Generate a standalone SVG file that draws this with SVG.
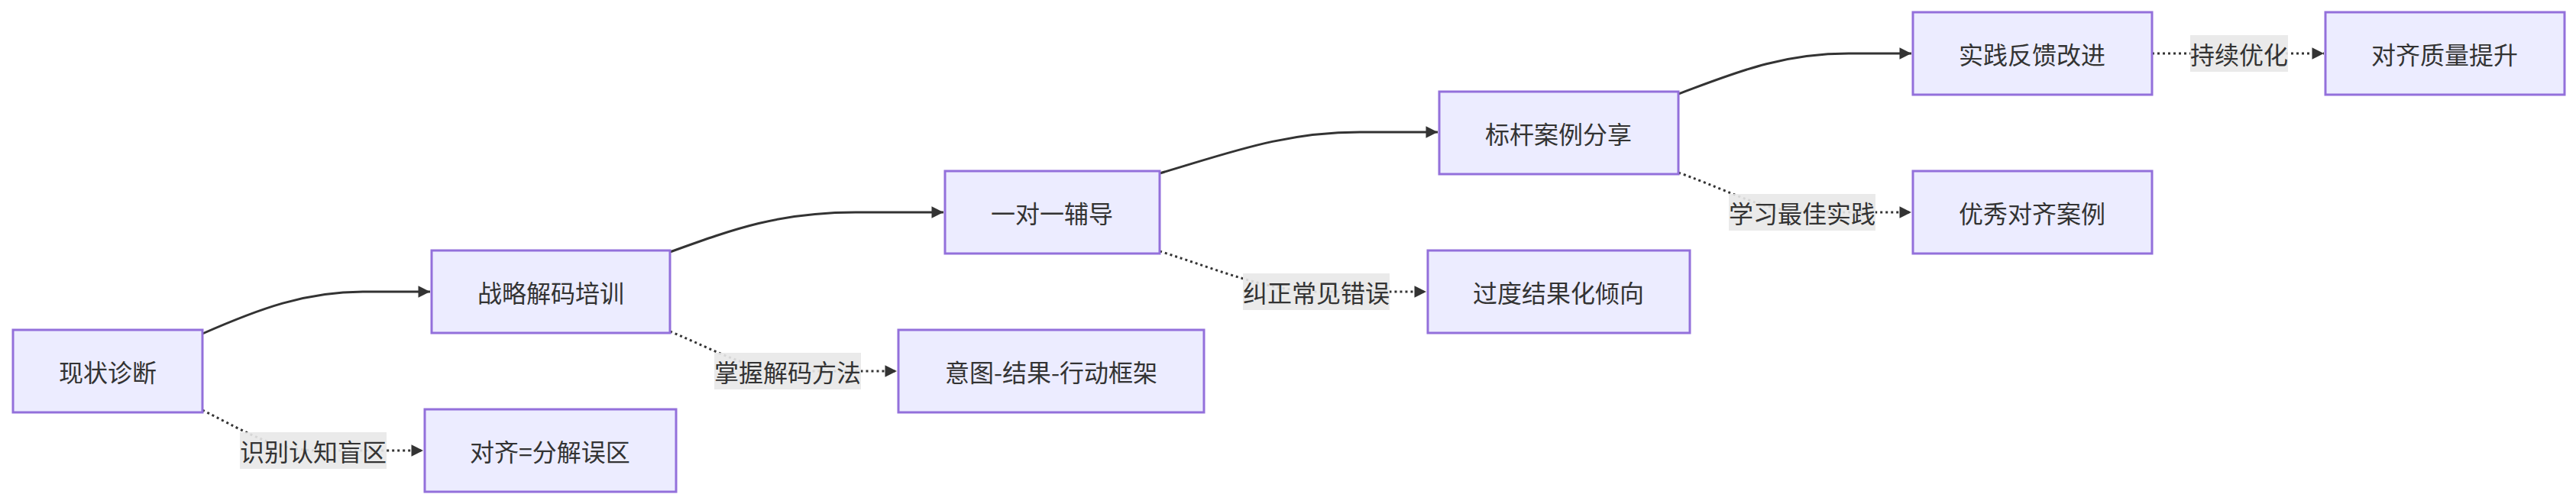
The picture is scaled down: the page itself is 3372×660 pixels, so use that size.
<svg xmlns="http://www.w3.org/2000/svg" width="3372" height="660" viewBox="0 0 3372 660">
<style>
.n rect{fill:#ECECFF;stroke:#9370DB;stroke-width:3}
text{font-family:"Noto Sans CJK SC","Liberation Sans",sans-serif;font-size:32px;fill:#333;text-anchor:middle;dominant-baseline:central}
.e{fill:none;stroke:#333;stroke-width:3}
.d{fill:none;stroke:#333;stroke-width:3;stroke-dasharray:3 4}
.lb{fill:#e8e8e8;opacity:0.9}
</style>
<defs>
<marker id="a" viewBox="0 0 10 10" refX="10" refY="5" markerWidth="7" markerHeight="7" markerUnits="userSpaceOnUse" orient="auto" style="overflow:visible"><path d="M0,0L10,5L0,10z" fill="#333" transform="scale(2.2) translate(-5.5,-2.7)"/></marker>
</defs>
<g id="edges">
<path class="e" d="M265,437 C340,404 400,382 475,382 L563,382" marker-end="url(#a)"/>
<path class="d" d="M265,537 C330,570 360,590 420,590 L554,590" marker-end="url(#a)"/>
<path class="e" d="M877,330 C960,300 1020,278 1120,278 L1235,278" marker-end="url(#a)"/>
<path class="d" d="M877,434 C940,460 980,486 1040,486 L1174,486" marker-end="url(#a)"/>
<path class="e" d="M1518,227 C1610,200 1680,173 1780,173 L1882,173" marker-end="url(#a)"/>
<path class="d" d="M1518,329 C1600,355 1660,382 1730,382 L1867,382" marker-end="url(#a)"/>
<path class="e" d="M2197,123 C2270,96 2330,70 2420,70 L2502,70" marker-end="url(#a)"/>
<path class="d" d="M2197,226 C2270,252 2310,278 2370,278 L2502,278" marker-end="url(#a)"/>
<path class="d" d="M2817,70 L3042,70" marker-end="url(#a)"/>
</g>
<g id="labels">
<rect class="lb" x="314" y="566" width="192" height="48"/><text x="410" y="590">识别认知盲区</text>
<rect class="lb" x="935" y="462" width="192" height="48"/><text x="1031" y="486">掌握解码方法</text>
<rect class="lb" x="1627" y="358" width="192" height="48"/><text x="1723" y="382">纠正常见错误</text>
<rect class="lb" x="2263" y="254" width="192" height="48"/><text x="2359" y="278">学习最佳实践</text>
<rect class="lb" x="2867" y="46" width="128" height="48"/><text x="2931" y="70">持续优化</text>
</g>
<g id="n1" class="n"><rect x="17" y="432" width="248" height="108"/><text x="141" y="486">现状诊断</text></g>
<g id="n2" class="n"><rect x="565" y="328" width="312" height="108"/><text x="721" y="382">战略解码培训</text></g>
<g id="n3" class="n"><rect x="556" y="536" width="329" height="108"/><text x="720" y="590">对齐=分解误区</text></g>
<g id="n4" class="n"><rect x="1176" y="432" width="400" height="108"/><text x="1376" y="486">意图-结果-行动框架</text></g>
<g id="n5" class="n"><rect x="1237" y="224" width="281" height="108"/><text x="1377" y="278">一对一辅导</text></g>
<g id="n6" class="n"><rect x="1869" y="328" width="343" height="108"/><text x="2040" y="382">过度结果化倾向</text></g>
<g id="n7" class="n"><rect x="1884" y="120" width="313" height="108"/><text x="2040" y="174">标杆案例分享</text></g>
<g id="n8" class="n"><rect x="2504" y="16" width="313" height="108"/><text x="2660" y="70">实践反馈改进</text></g>
<g id="n9" class="n"><rect x="2504" y="224" width="313" height="108"/><text x="2660" y="278">优秀对齐案例</text></g>
<g id="n10" class="n"><rect x="3044" y="16" width="313" height="108"/><text x="3200" y="70">对齐质量提升</text></g>
</svg>
